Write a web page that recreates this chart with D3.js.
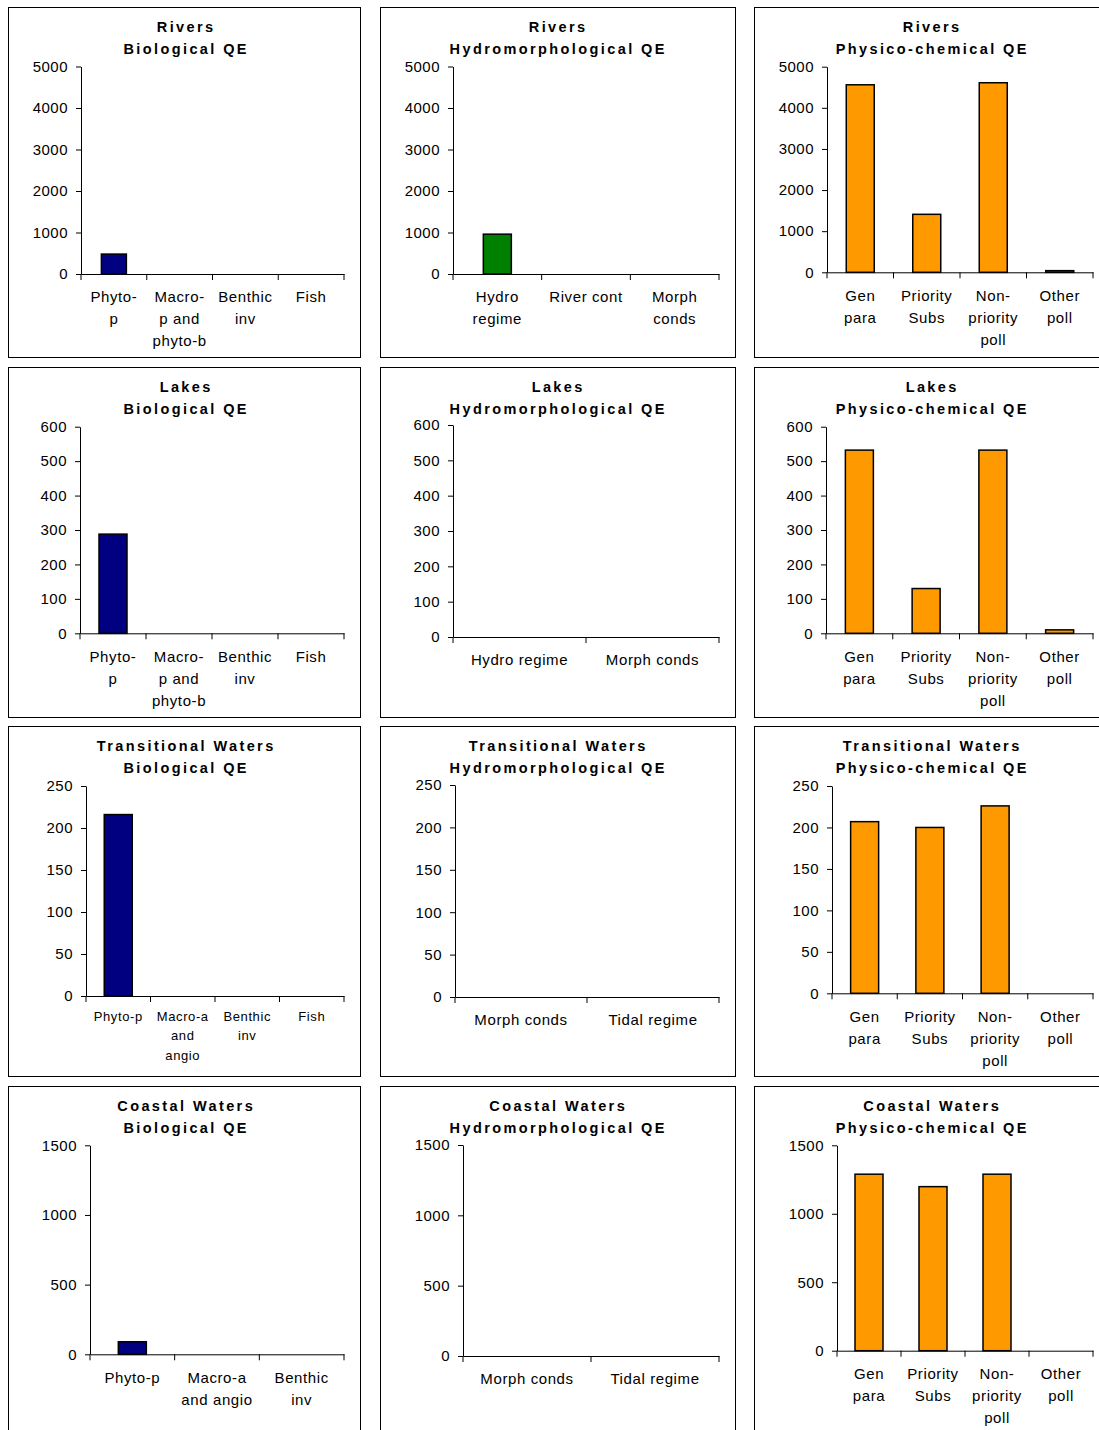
<!DOCTYPE html>
<html>
<head>
<meta charset="utf-8">
<script src="https://cdn.jsdelivr.net/npm/d3@7"></script>
<style>
  html, body { margin: 0; padding: 0; background: #fff; }
  svg { display: block; font-family: "Liberation Sans", Arial, sans-serif; }
</style>
</head>
<body>
<svg id="chart" width="1099" height="1430"></svg>
<script>
// ---------- DATA ----------
const waterBodies = ["Rivers", "Lakes", "Transitional Waters", "Coastal Waters"];
const qeTypes = ["Biological QE", "Hydromorphological QE", "Physico-chemical QE"];

const bioCatsRiversLakes = ["Phyto-\np", "Macro-\np and\nphyto-b", "Benthic\ninv", "Fish"];
const bioCatsTransitional = ["Phyto-p", "Macro-a\nand\nangio", "Benthic\ninv", "Fish"];
const bioCatsCoastal = ["Phyto-p", "Macro-a\nand angio", "Benthic\ninv"];
const hydroCatsRivers = ["Hydro\nregime", "River cont", "Morph\nconds"];
const hydroCatsLakes = ["Hydro regime", "Morph conds"];
const hydroCatsTidal = ["Morph conds", "Tidal regime"];
const physCats = ["Gen\npara", "Priority\nSubs", "Non-\npriority\npoll", "Other\npoll"];

const riversBio = [480, 0, 0, 0];
const riversHydro = [960, 0, 0];
const riversPhys = [4560, 1410, 4610, 40];
const lakesBio = [288, 0, 0, 0];
const lakesHydro = [0, 0];
const lakesPhys = [532, 130, 532, 10];
const transBio = [216, 0, 0, 0];
const transHydro = [0, 0];
const transPhys = [207, 200, 226, 0];
const coastBio = [90, 0, 0];
const coastHydro = [0, 0];
const coastPhys = [1289, 1198, 1289, 0];

const riversTicks = [0, 1000, 2000, 3000, 4000, 5000];
const lakesTicks = [0, 100, 200, 300, 400, 500, 600];
const transTicks = [0, 50, 100, 150, 200, 250];
const coastTicks = [0, 500, 1000, 1500];

// ---------- PANEL TABLE (built from arrays) ----------
const panelData = [
  [[bioCatsRiversLakes, riversBio, riversTicks], [hydroCatsRivers, riversHydro, riversTicks], [physCats, riversPhys, riversTicks]],
  [[bioCatsRiversLakes, lakesBio, lakesTicks], [hydroCatsLakes, lakesHydro, lakesTicks], [physCats, lakesPhys, lakesTicks]],
  [[bioCatsTransitional, transBio, transTicks], [hydroCatsTidal, transHydro, transTicks], [physCats, transPhys, transTicks]],
  [[bioCatsCoastal, coastBio, coastTicks], [hydroCatsTidal, coastHydro, coastTicks], [physCats, coastPhys, coastTicks]]
];
const qeColors = ["#000080", "#008000", "#FF9900"];

// ---------- LAYOUT ----------
const PH = 350;
const colW = [352, 355, 354];
const colX = [8, 380, 754];
const rowY = [7, 367, 726, 1086];
const layout = [
  [{l:73, t:59.5, z:267, r:336, bw:25}, {l:73, t:59.5, z:267, r:339, bw:28}, {l:73, t:59.7, z:265.3, r:339, bw:28}],
  [{l:72, t:59.7, z:266.3, r:336, bw:28}, {l:73, t:58, z:270, r:339, bw:28}, {l:72, t:59.7, z:266.3, r:339, bw:28}],
  [{l:78, t:60, z:270, r:336, bw:28, small:true}, {l:75, t:59, z:271, r:339, bw:28}, {l:78, t:60, z:267.3, r:339, bw:28}],
  [{l:82, t:59.3, z:268.3, r:336, bw:28}, {l:83, t:59, z:270, r:339, bw:28}, {l:83, t:59.3, z:264.7, r:339, bw:28}]
];

const svg = d3.select("#chart");

waterBodies.forEach((wb, ri) => {
  qeTypes.forEach((qe, ci) => {
    const [cats, vals, ticks] = panelData[ri][ci];
    const L = layout[ri][ci];
    const PW = colW[ci];
    const g = svg.append("g").attr("transform", `translate(${colX[ci]},${rowY[ri]})`);

    g.append("rect").attr("x", 0.5).attr("y", 0.5).attr("width", PW).attr("height", PH)
      .attr("fill", "#fff").attr("stroke", "#000").attr("stroke-width", 1);

    // title
    [wb, qe].forEach((t, i) => {
      g.append("text").attr("x", 177 + 1.2).attr("y", 20 + i * 22).attr("dy", "0.35em")
        .attr("text-anchor", "middle").attr("font-size", "14.5px").attr("font-weight", "bold")
        .attr("letter-spacing", "2.4px").attr("fill", "#000").text(t);
    });

    const x = d3.scaleBand().domain(cats).range([L.l, L.r]).padding(0);
    const y = d3.scaleLinear().domain([0, d3.max(ticks)]).range([L.z, L.t]);

    // y axis
    const ya = g.append("g").attr("transform", `translate(${L.l},0)`)
      .call(d3.axisLeft(y).tickValues(ticks).tickFormat(d3.format("d")).tickSize(5).tickSizeOuter(0).tickPadding(8));
    ya.selectAll("path,line").attr("stroke", "#000");
    ya.selectAll("text").attr("font-size", "15px").attr("fill", "#000")
      .attr("letter-spacing", "0.5px").attr("font-family", "'Liberation Sans', Arial, sans-serif");

    // bars
    g.selectAll("rect.bar").data(cats.map((c, i) => ({c, v: vals[i]})).filter(d => d.v > 0))
      .enter().append("rect").attr("class", "bar")
      .attr("x", d => x(d.c) + x.bandwidth() / 2 - L.bw / 2)
      .attr("width", L.bw)
      .attr("y", d => y(d.v))
      .attr("height", d => y(0) - y(d.v))
      .attr("fill", qeColors[ci]).attr("stroke", "#000").attr("stroke-width", 1.5);

    // x axis
    const xa = g.append("g").attr("transform", `translate(0,${L.z})`)
      .call(d3.axisBottom(x).tickSize(0).tickSizeOuter(0).tickFormat(""));
    xa.select("path").attr("stroke", "#000");
    const bounds = cats.map(c => x(c)).concat([x.range()[1]]);
    xa.selectAll("line.bnd").data(bounds).enter().append("line").attr("class", "bnd")
      .attr("x1", d => d).attr("x2", d => d).attr("y1", 0).attr("y2", 6).attr("stroke", "#000");

    // category labels
    const fs = L.small ? 13 : 15, lh = L.small ? 19.5 : 22, off = L.small ? 20 : 23;
    cats.forEach(c => {
      const lines = c.split("\n");
      const t = g.append("text").attr("text-anchor", "middle").attr("font-size", fs + "px")
        .attr("letter-spacing", L.small ? "0.6px" : "0.6px").attr("fill", "#000");
      lines.forEach((ln, i) => {
        t.append("tspan").attr("x", x(c) + x.bandwidth() / 2).attr("y", L.z + off + i * lh)
          .attr("dy", "0.35em").text(ln);
      });
    });
  });
});
</script>
</body>
</html>
